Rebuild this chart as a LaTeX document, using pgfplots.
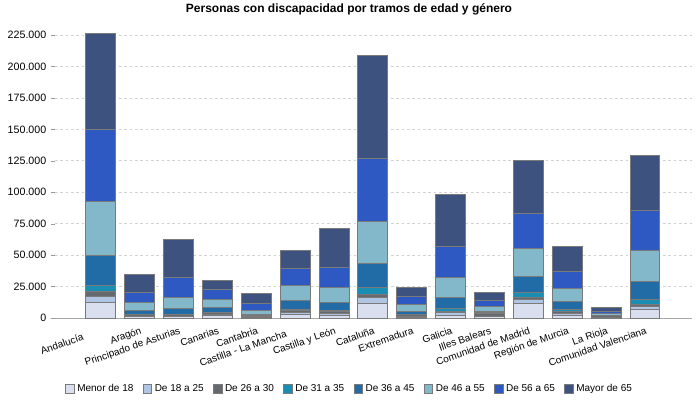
\documentclass[border=0pt]{standalone}
\usepackage{fontspec}
\setmainfont{Liberation Sans}
\usepackage{pgfplots}
\usepackage{pgfplotstable}
\pgfplotsset{compat=1.18}

\definecolor{cA}{HTML}{D9DFEF}
\definecolor{cB}{HTML}{AFC5E3}
\definecolor{cC}{HTML}{66696E}
\definecolor{cD}{HTML}{1A8DB3}
\definecolor{cE}{HTML}{216CA6}
\definecolor{cF}{HTML}{83B7CA}
\definecolor{cG}{HTML}{2E59C2}
\definecolor{cH}{HTML}{3E527F}
\definecolor{edge}{HTML}{7A7A7A}

% idx, menor18, 18-25, 26-30, 31-35, 36-45, 46-55, 56-65, mayor65
\pgfplotstableread{
idx a b c d e f g h
0 12700 4500 3500 5300 23500 43300 56700 76500
1 800 600 1200 400 2800 6300 7800 14700
2 800 600 1000 400 4500 8700 16000 30500
3 1600 1200 1200 500 3600 6600 8300 6800
4 500 400 700 300 800 3100 5600 8000
5 2650 1550 1400 1300 6900 11700 13900 14300
6 2100 1600 1300 1100 5900 12100 15800 31100
7 11900 4300 2600 5100 19700 33000 50400 81900
8 700 600 1200 400 2400 5300 6400 7500
9 2100 2100 1100 2400 8800 15400 24800 41500
10 900 600 2000 500 800 4500 4500 6300
11 11900 2900 1400 3900 12900 22000 28000 42000
12 2100 1300 1900 1300 6600 10600 12900 20000
13 400 300 900 200 500 900 2200 3300
14 6600 2900 1600 3700 14200 24500 31900 43900
}\datos

\begin{document}
\begin{tikzpicture}
\path[use as bounding box] (0pt,0pt) rectangle (525pt,300pt);
\begin{axis}[
  at={(41.25pt,61.5pt)}, anchor=south west,
  scale only axis, width=477.75pt, height=212.25pt,
  ybar stacked, bar width=0.77,
  xmin=-1.18, xmax=15.21, ymin=0, ymax=225000,
  clip=false,
  axis x line*=bottom, axis y line*=left,
  y axis line style={draw=none},
  x axis line style={draw=gray!70, line width=0.75pt, -},
  xtick=data,
  xticklabels={Andalucía\kern15pt, Aragón, Principado de Asturias, Canarias, Cantabria,
    Castilla - La Mancha\kern8pt, Castilla y León, Cataluña, Extremadura, Galicia,
    Illes Balears, Comunidad de Madrid, Región de Murcia, La Rioja, Comunidad Valenciana},
  xtick style={draw=none},
  xticklabel style={rotate=19, anchor=north east, inner sep=1pt, yshift=-2pt, font=\fontsize{7.5}{9}\selectfont},
  ytick={0,25000,...,225000},
  ytick style={draw=gray!80},
  tick align=outside, major tick length=3pt,
  yticklabel style={font=\fontsize{8}{9}\selectfont},
  scaled y ticks=false,
  /pgf/number format/.cd, fixed, 1000 sep={.}, assume math mode=true, /pgfplots/.cd,
  ymajorgrids, grid style={gray!35, dash pattern=on 2pt off 2pt, line width=0.5pt},
  title={Personas con discapacidad por tramos de edad y género},
  title style={font=\bfseries\fontsize{9}{10}\selectfont, at={(0.4615,1)}, anchor=center, yshift=13pt},
  legend columns=8,
  legend style={draw=none, at={(0.463,-0.251)}, anchor=center,
    font=\fontsize{7.5}{9}\selectfont,
    /tikz/every even column/.append style={column sep=5pt}},
  legend image code/.code={\draw[#1, draw=edge, line width=0.5pt] (0pt,-3pt) rectangle (6.5pt,3.5pt);},
  every axis plot/.append style={draw=edge, line width=0.75pt},
]
\addplot[fill=cA] table[x=idx, y=a] {\datos};
\addplot[fill=cB] table[x=idx, y=b] {\datos};
\addplot[fill=cC] table[x=idx, y=c] {\datos};
\addplot[fill=cD] table[x=idx, y=d] {\datos};
\addplot[fill=cE] table[x=idx, y=e] {\datos};
\addplot[fill=cF] table[x=idx, y=f] {\datos};
\addplot[fill=cG] table[x=idx, y=g] {\datos};
\addplot[fill=cH] table[x=idx, y=h] {\datos};
\legend{Menor de 18, De 18 a 25, De 26 a 30, De 31 a 35, De 36 a 45, De 46 a 55, De 56 a 65, Mayor de 65}
\end{axis}
\end{tikzpicture}
\end{document}
